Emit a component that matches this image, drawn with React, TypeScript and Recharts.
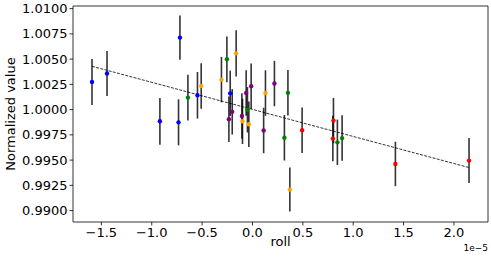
import React from 'react';
import {
  ScatterChart,
  Scatter,
  XAxis,
  YAxis,
  ErrorBar,
  ReferenceLine,
  ReferenceArea,
} from 'recharts';

// roll values are in units of 1e-5
const blueRoll = [-1.593, -1.444, -0.72, -0.919, -0.734, -0.546, -0.221];
const blueValue = [1.00273, 1.00357, 1.00713, 0.99884, 0.99874, 1.00142, 1.00161];
const blueErr = [0.00228, 0.00223, 0.0022, 0.00231, 0.00228, 0.00231, 0.00225];

const orangeRoll = [-0.509, -0.308, -0.162, -0.099, -0.036, 0.129, 0.371];
const orangeValue = [1.00234, 1.00297, 1.00557, 0.99884, 0.99855, 1.00164, 0.99208];
const orangeErr = [0.00226, 0.00225, 0.00228, 0.00225, 0.00225, 0.00225, 0.00218];

const greenRoll = [-0.641, -0.254, -0.05, 0.352, 0.317, 0.843, 0.89];
const greenValue = [1.00119, 1.00498, 0.99998, 1.00166, 0.99721, 0.99676, 0.99718];
const greenErr = [0.00226, 0.00226, 0.00225, 0.00225, 0.00225, 0.00225, 0.00225];

const redRoll = [0.493, 0.804, 0.798, 1.419, 2.15];
const redValue = [0.99795, 0.99891, 0.99713, 0.99462, 0.99495];
const redErr = [0.00225, 0.00225, 0.00225, 0.0022, 0.00223];

const purpleRoll = [-0.201, -0.234, -0.0625, -0.013, -0.105, 0.218, 0.111];
const purpleValue = [0.99978, 0.99904, 1.00164, 1.00231, 0.99937, 1.00258, 0.99793];
const purpleErr = [0.00225, 0.00225, 0.00225, 0.00225, 0.00225, 0.00225, 0.00225];

const fitRoll = [-1.593, 2.15];
const fitValue = [1.00429, 0.99426];

const xTicks = [-1.5, -1.0, -0.5, 0.0, 0.5, 1.0, 1.5, 2.0];
const yTicks = [0.99, 0.9925, 0.995, 0.9975, 1.0, 1.0025, 1.005, 1.0075, 1.01];

const xDomain = [-1.7817, 2.3383];
const yDomain = [0.98887, 1.01026];

const build = (xs: number[], ys: number[], es: number[]) =>
  xs.map((x, i) => ({ roll: x, value: ys[i], err: es[i] }));

const groups = [
  { name: 'blue', color: '#0000ff', data: build(blueRoll, blueValue, blueErr) },
  { name: 'orange', color: '#ffa500', data: build(orangeRoll, orangeValue, orangeErr) },
  { name: 'green', color: '#008000', data: build(greenRoll, greenValue, greenErr) },
  { name: 'red', color: '#ff0000', data: build(redRoll, redValue, redErr) },
  { name: 'purple', color: '#800080', data: build(purpleRoll, purpleValue, purpleErr) },
];

const FONT = 'DejaVu Sans, sans-serif';

const fmtX = (v: number) => (v < 0 ? '\u2212' + Math.abs(v).toFixed(1) : v.toFixed(1));
const fmtY = (v: number) => v.toFixed(4);

export default function App() {
  return (
    <div style={{ position: 'absolute', left: 0, top: 0 }}>
      <ScatterChart
        width={491}
        height={260}
        margin={{ top: 6, right: 3, bottom: 0, left: 0 }}
      >
        <XAxis
          type="number"
          dataKey="roll"
          domain={xDomain}
          allowDataOverflow
          ticks={xTicks}
          interval={0}
          tickFormatter={fmtX}
          height={38}
          axisLine={false}
          tickSize={3.5}
          tickMargin={2}
          tickLine={{ stroke: '#000', strokeWidth: 0.8 }}
          tick={{ fill: '#000', fontSize: 13, fontFamily: FONT }}
          label={{
            content: (props: any) => {
              const vb = props.viewBox || {};
              return (
                <g>
                  <text
                    x={vb.x + vb.width / 2}
                    y={vb.y + 19}
                    textAnchor="middle"
                    dominantBaseline="central"
                    fontSize={13}
                    fontFamily={FONT}
                    fill="#000"
                  >
                    roll
                  </text>
                  <text
                    x={vb.x + vb.width}
                    y={vb.y + 26}
                    textAnchor="end"
                    dominantBaseline="central"
                    fontSize={9}
                    fontFamily={FONT}
                    fill="#000"
                  >
                    1e−5
                  </text>
                </g>
              );
            },
          }}
        />
        <YAxis
          type="number"
          dataKey="value"
          domain={yDomain}
          allowDataOverflow
          ticks={yTicks}
          interval={0}
          tickFormatter={fmtY}
          width={73}
          axisLine={false}
          tickSize={3.5}
          tickMargin={2}
          tickLine={{ stroke: '#000', strokeWidth: 0.8 }}
          tick={{ fill: '#000', fontSize: 13, fontFamily: FONT }}
          label={{
            content: (props: any) => {
              const vb = props.viewBox || {};
              const cx = vb.x + 10;
              const cy = vb.y + vb.height / 2;
              return (
                <text
                  x={cx}
                  y={cy}
                  transform={`rotate(-90 ${cx} ${cy})`}
                  textAnchor="middle"
                  dominantBaseline="central"
                  fontSize={13}
                  fontFamily={FONT}
                  fill="#000"
                >
                  Normalized value
                </text>
              );
            },
          }}
        />
        {groups.map((g) => (
          <Scatter
            key={g.name}
            name={g.name}
            data={g.data}
            isAnimationActive={false}
            shape={(p: any) => <circle cx={p.cx} cy={p.cy} r={2.2} fill={g.color} />}
          >
            <ErrorBar
              dataKey="err"
              direction="y"
              width={0}
              stroke="#000"
              strokeOpacity={0.8}
              strokeWidth={1.6}
              isAnimationActive={false}
            />
          </Scatter>
        ))}
        <ReferenceLine
          segment={[
            { x: fitRoll[0], y: fitValue[0] },
            { x: fitRoll[1], y: fitValue[1] },
          ]}
          stroke="#000"
          strokeWidth={0.8}
          strokeDasharray="3 1.3"
        />
        <ReferenceArea
          x1={xDomain[0]}
          x2={xDomain[1]}
          y1={yDomain[0]}
          y2={yDomain[1]}
          fill="none"
          stroke="#000"
          strokeWidth={0.8}
        />
      </ScatterChart>
    </div>
  );
}
